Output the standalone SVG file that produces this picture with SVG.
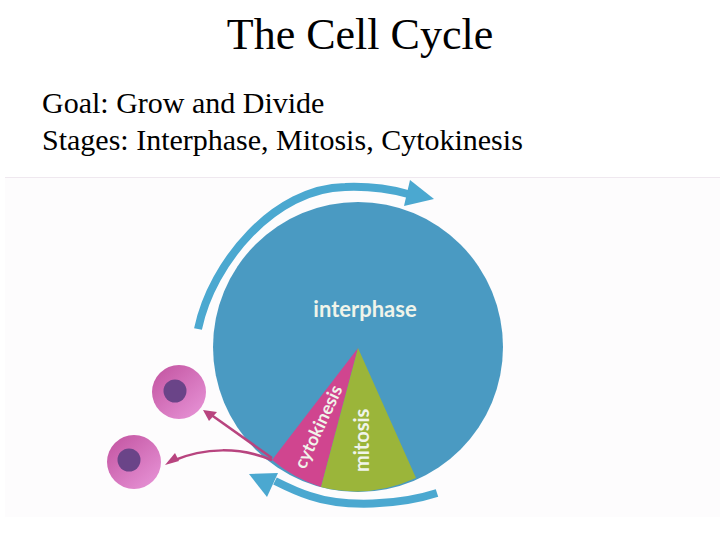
<svg xmlns="http://www.w3.org/2000/svg" width="720" height="540" viewBox="0 0 720 540">
<defs>
<linearGradient id="cellFill" x1="0.15" y1="0.1" x2="0.85" y2="0.9"><stop offset="0" stop-color="#c65aa6"/><stop offset="1" stop-color="#e48ed2"/></linearGradient>
</defs>
<style>
.title{font-family:"Liberation Serif",serif;fill:#000}
.lab{font-family:"Lato","Noto Sans",sans-serif;font-weight:700;fill:#f0f4ea}
.cyc{fill:none;stroke:#4ba8d0}
.pk{fill:none;stroke:#b8447f;stroke-width:2.5}
</style>
<rect width="720" height="540" fill="#fff"/>
<rect x="5" y="177" width="715" height="340" fill="#fdfcfd"/>
<line x1="5" y1="177.500" x2="720" y2="177.500" stroke="#efe8ef"/>
<text class="title" x="360" y="49" font-size="44" text-anchor="middle">The Cell Cycle</text>
<text class="title" x="42" y="113" font-size="30">Goal: Grow and Divide</text>
<text class="title" x="42" y="150" font-size="30">Stages: Interphase, Mitosis, Cytokinesis</text>
<g id="interphase">
<circle cx="358" cy="347" r="145" fill="#4a9ac2"/>
<text class="lab" x="365" y="317" font-size="22" text-anchor="middle">interphase</text>
</g>
<g id="cytokinesis">
<path d="M358 348L272 460A145 145 0 0 0 321 487Z" fill="#d0458f"/>
<text class="lab" transform="translate(305 470) rotate(-65)" font-size="18">cytokinesis</text>
</g>
<g id="mitosis">
<path d="M358 348L321 487A145 145 0 0 0 416 478Z" fill="#9bb53a"/>
<text class="lab" transform="translate(369 472) rotate(-90)" font-size="20">mitosis</text>
</g>
<g id="cell-1"><circle cx="179" cy="392" r="27" fill="url(#cellFill)"/><circle cx="175" cy="391" r="11.500" fill="#6a4488"/></g>
<g id="cell-2"><circle cx="134" cy="462" r="27" fill="url(#cellFill)"/><circle cx="129" cy="460" r="11.500" fill="#6a4488"/></g>
<g id="connectors">
<path class="cyc" stroke-width="8" d="M198 329C212 262 275 188 345 187C370 186 390 189 408 194"/>
<path d="M410 180L434 199L404 206Z" fill="#4ba8d0"/>
<path class="cyc" stroke-width="8" d="M437 493C400 505 345 508 310 496C297 492 285 486 275 481"/>
<path d="M249 474L278 473L267 497Z" fill="#4ba8d0"/>
<path class="pk" d="M272 458L210 414"/>
<path d="M203 410L217 412L209 421Z" fill="#b8447f"/>
<path class="pk" d="M272 460C240 447 205 447 172 461"/>
<path d="M165 465L175 453L179 461Z" fill="#b8447f"/>
</g>
</svg>
